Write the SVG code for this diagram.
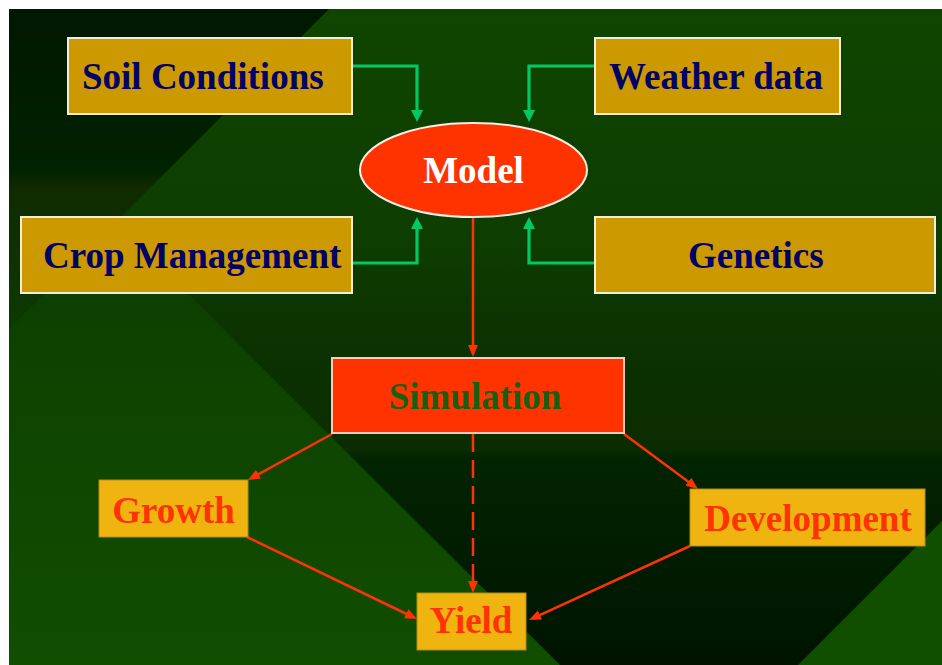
<svg xmlns="http://www.w3.org/2000/svg" width="942" height="665" viewBox="0 0 942 665">
  <defs>
    <linearGradient id="bgBase" gradientUnits="userSpaceOnUse" x1="0" y1="9" x2="0" y2="665">
      <stop offset="0" stop-color="#0f4500"/>
      <stop offset="0.337" stop-color="#0d3e00"/>
      <stop offset="0.489" stop-color="#0c3300"/>
      <stop offset="0.672" stop-color="#0b2c00"/>
      <stop offset="0.684" stop-color="#022400"/>
      <stop offset="1" stop-color="#001400"/>
    </linearGradient>
    <linearGradient id="bgCorner" gradientUnits="userSpaceOnUse" x1="0" y1="9" x2="0" y2="329">
      <stop offset="0" stop-color="#001800"/>
      <stop offset="0.5" stop-color="#002200"/>
      <stop offset="0.55" stop-color="#0f2a00"/>
      <stop offset="1" stop-color="#0c3a00"/>
    </linearGradient>
    <linearGradient id="bgLower" gradientUnits="userSpaceOnUse" x1="0" y1="222" x2="0" y2="665">
      <stop offset="0" stop-color="#0d3d00"/>
      <stop offset="1" stop-color="#104e00"/>
    </linearGradient>
    <marker id="arrowGreen" markerUnits="userSpaceOnUse" viewBox="0 0 12 12" markerWidth="12" markerHeight="12" refX="4" refY="6" orient="auto">
      <path d="M0,0 L12,6 L0,12 z" fill="#00c864"/>
    </marker>
    <marker id="arrowRed" markerUnits="userSpaceOnUse" viewBox="0 0 12 11" markerWidth="12" markerHeight="11" refX="5" refY="5.5" orient="auto">
      <path d="M0,0.5 L12,5.5 L0,10.5 z" fill="#ff3300"/>
    </marker>
  </defs>
  <style>
    .input rect { fill: #cc9900; stroke: #f3ecd6; stroke-width: 2; }
    .input text { fill: #000066; }
    .output rect { fill: #f0b411; stroke: #b48c10; stroke-width: 1; }
    .output text { fill: #ff3300; }
    text { font-family: "Liberation Serif", "Times New Roman", serif; font-weight: bold; font-size: 37px; }
    .feed { fill: none; stroke: #00c864; stroke-width: 3.2; marker-end: url(#arrowGreen); }
    .flow { fill: none; stroke: #ff3300; stroke-width: 2.5; marker-end: url(#arrowRed); }
    .dashed { stroke-dasharray: 18 8; }
  </style>

  <!-- slide background -->
  <rect x="0" y="0" width="942" height="665" fill="#ffffff"/>
  <rect x="9" y="9" width="933" height="656" fill="url(#bgBase)"/>
  <polygon points="9,9 329,9 9,329" fill="url(#bgCorner)"/>
  <polygon points="116,222 560,665 9,665 9,329" fill="url(#bgLower)"/>
  <polygon points="798,665 942,521 942,665" fill="#104e00"/>

  <!-- connectors -->
  <g id="connectors">
    <polyline class="feed" points="352,66 417,66 417,114"/>
    <polyline class="feed" points="595,66 529,66 529,114"/>
    <polyline class="feed" points="352,263 417,263 417,225"/>
    <polyline class="feed" points="595,263 529,263 529,225"/>
    <line class="flow" x1="473" y1="217" x2="473" y2="350"/>
    <line class="flow" x1="332" y1="434" x2="254.1" y2="476.6"/>
    <line class="flow" x1="624" y1="434" x2="692.4" y2="484.8"/>
    <line class="flow dashed" x1="473" y1="434" x2="473" y2="586"/>
    <line class="flow" x1="247" y1="537" x2="410.7" y2="616"/>
    <line class="flow" x1="690" y1="546" x2="535.4" y2="617.1"/>
  </g>

  <!-- inputs -->
  <g id="soil" class="input">
    <rect x="68" y="38" width="284" height="76"/>
    <text x="82" y="89">Soil Conditions</text>
  </g>
  <g id="weather" class="input">
    <rect x="595" y="38" width="245" height="76"/>
    <text x="609" y="89">Weather data</text>
  </g>
  <g id="crop" class="input">
    <rect x="21" y="217" width="331" height="76"/>
    <text x="43" y="268">Crop Management</text>
  </g>
  <g id="genetics" class="input">
    <rect x="595" y="217" width="340" height="76"/>
    <text x="688" y="268">Genetics</text>
  </g>

  <!-- model -->
  <g id="model">
    <ellipse cx="473.5" cy="170" rx="113.5" ry="47" fill="#ff3300" stroke="#f4eee6" stroke-width="2"/>
    <text x="473.5" y="183" text-anchor="middle" fill="#ffffff">Model</text>
  </g>

  <!-- simulation -->
  <g id="simulation">
    <rect x="332" y="358" width="292" height="75" fill="#ff3300" stroke="#ffc8b8" stroke-width="2"/>
    <text x="475" y="409" text-anchor="middle" fill="#1b5e10">Simulation</text>
  </g>

  <!-- outputs -->
  <g id="growth" class="output">
    <rect x="99" y="480" width="149" height="57"/>
    <text x="173.5" y="523" text-anchor="middle">Growth</text>
  </g>
  <g id="development" class="output">
    <rect x="690" y="489" width="235" height="57"/>
    <text x="808" y="531" text-anchor="middle">Development</text>
  </g>
  <g id="yield" class="output">
    <rect x="417" y="593" width="109" height="57"/>
    <text x="471" y="633" text-anchor="middle">Yield</text>
  </g>
</svg>
